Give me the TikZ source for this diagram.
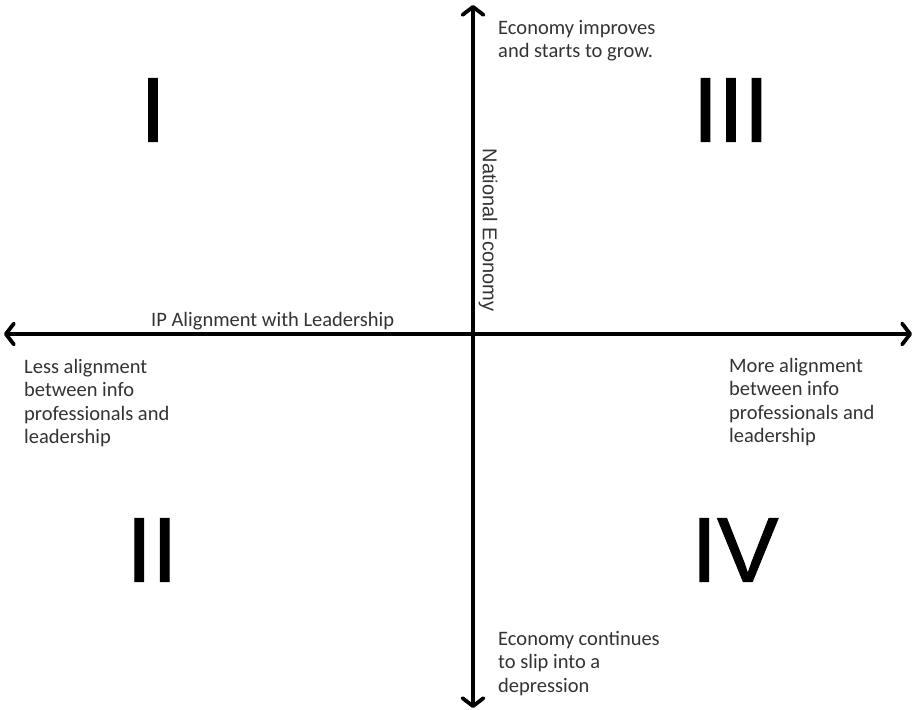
\documentclass[tikz,border=0pt]{standalone}
\usepackage{fontspec}
\setmainfont{Carlito}
\newfontfamily\arialfont{Liberation Sans}
\newfontfamily\numfont[FakeBold=1.2]{Liberation Sans}
\usetikzlibrary{arrows.meta}
\tikzset{
  axis/.style={line width=3.8pt, {Straight Barb[length=8pt,width=21pt,round]}-{Straight Barb[length=8pt,width=21pt,round]}},
  note/.style={anchor=north west, inner sep=0pt, align=left, font=\fontsize{20.5}{23.5}\selectfont, text=black!80},
  numeral/.style={inner sep=0pt, font=\numfont\fontsize{92}{92}\selectfont}
}
\begin{document}
\begin{tikzpicture}[x=1pt,y=-1pt]
\useasboundingbox (0,0) rectangle (914,710);
\coordinate (L) at (4,334);
\coordinate (R) at (912,334);
\coordinate (T) at (473,5);
\coordinate (B) at (473,708);
\draw[axis] (L) -- (R);
\draw[axis] (B) -- (T);
\node[inner sep=0pt, anchor=base west, font=\fontsize{20.5}{23.5}\selectfont, text=black!80] (xlab) at (151,326) {IP Alignment with Leadership};
\node[inner sep=0pt, rotate=-90, font=\arialfont\fontsize{20}{23}\selectfont, text=black!80] (ylab) at (488,230) {National Economy};
\node[note] (top) at (498,20) {Economy improves\\and starts to grow.};
\node[note] (bot) at (498,631) {Economy continues\\to slip into a\\depression};
\node[note] (left) at (24,359) {Less alignment\\between info\\professionals and\\leadership};
\node[note] (right) at (729,358) {More alignment\\between info\\professionals and\\leadership};
\node[numeral] (q1) at (153,110) {I};
\node[numeral] (q3) at (731,110) {III};
\node[numeral] (q2) at (152,550) {II};
\node[numeral] (q4) at (735,550) {IV};
\end{tikzpicture}
\end{document}
